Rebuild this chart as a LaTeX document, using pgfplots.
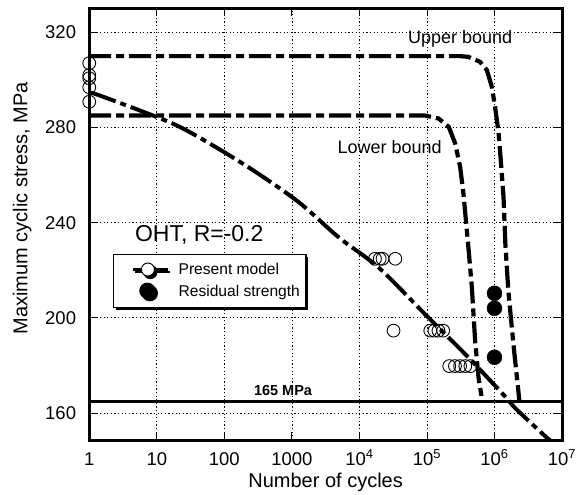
\documentclass[border=0pt]{standalone}
\usepackage{fontspec}
\setmainfont{Liberation Sans}
\usepackage{pgfplots}
\pgfplotsset{compat=1.18}
\usetikzlibrary{shadows}

\begin{document}
\begin{tikzpicture}
\begin{axis}[
 scale only axis,
 width=473bp, height=432bp,
 xmode=log,
 xmin=1, xmax=1e7,
 ymin=148.6, ymax=330.1,
 xtick={1,10,100,1000,1e4,1e5,1e6,1e7},
 xticklabels={1,10,100,1000,10\textsuperscript{4},10\textsuperscript{5},10\textsuperscript{6},10\textsuperscript{7}},
 ytick={160,200,240,280,320},
 xminorticks=false,
 grid=major,
 major grid style={black, line width=0.6bp, dash pattern=on 1.2bp off 2.4bp},
 axis line style={line width=3bp},
 tick align=inside,
 major tick length=8bp,
 tick style={black, line width=0.8bp},
 /pgf/number format/assume math mode=true,
 ticklabel style={font=\fontsize{18.5bp}{20bp}\selectfont, inner sep=0pt},
 xticklabel style={anchor=base, yshift=-25bp},
 yticklabel style={anchor=east, xshift=-13bp},
 xlabel={Number of cycles},
 ylabel={Maximum cyclic stress, MPa},
 label style={font=\fontsize{20bp}{22bp}\selectfont},
 xlabel style={at={(axis description cs:0.5,-0.0973)}, anchor=center},
 ylabel style={at={(axis description cs:-0.1417,0.537)}, anchor=center},
 legend cell align=left,
 legend style={at={(axis description cs:0.05,0.431)}, anchor=north west,
   draw=black, line width=1.2bp, fill=white,
   drop shadow={shadow xshift=2.5bp, shadow yshift=-2.5bp, opacity=1, fill=black},
   inner xsep=6bp, inner ysep=8bp, row sep=4.7bp, column sep=9bp,
   font=\fontsize{15.6bp}{17bp}\selectfont,
   nodes={inner sep=0pt, text height=11bp, text depth=3bp}},
]
% upper bound
\addplot[forget plot, black, line width=4.2bp, dash pattern=on 22bp off 5bp on 8bp off 5bp]
 coordinates {(1,310) (3e5,310) (4.1e5,309.7) (6.1e5,307.6) (7.7e5,304.2) (9.15e5,297.1)
  (1.02e6,288.7) (1.15e6,277.7) (1.24e6,266.3) (1.36e6,250.9) (1.45e6,231) (1.6e6,211.7)
  (1.9e6,189.4) (2.25e6,169.6) (2.35e6,164.5)};
% lower bound
\addplot[forget plot, black, line width=4.2bp, dash pattern=on 22bp off 5bp on 8bp off 5bp]
 coordinates {(1,285) (9.4e4,285) (1.48e5,283.8) (2.1e5,280.3) (2.62e5,273.3) (3.1e5,263.5)
  (3.47e5,252.3) (4.07e5,231) (4.62e5,213) (5.18e5,190) (5.8e5,175) (6.6e5,165)};
% present model
\addplot[forget plot, black, line width=4bp, smooth, dash pattern=on 28bp off 5bp on 6bp off 5bp]
 coordinates {(1,294.5) (1.41,293.5) (17,281.7) (76,271.6) (302,261) (1290,248.4) (5000,233.7)
  (19500,221) (93000,201.6) (3.9e5,184) (1.45e6,166.8) (2.05e6,161.9) (5.4e6,150.7) (7e6,148)};
% 165 MPa
\addplot[forget plot, black, line width=2.4bp] coordinates {(1,164.8) (1e7,164.8)};
% test data
\addplot[forget plot, only marks, mark=o, mark size=6.4bp, mark options={line width=0.9bp, black}]
 coordinates {(1,307) (1,302) (1,300.7) (1,296.9) (1,290.8)
  (1.7e4,224.8) (2.0e4,224.8) (2.2e4,224.8) (3.4e4,224.8)
  (3.2e4,194.6)
  (1.12e5,194.6) (1.29e5,194.6) (1.48e5,194.6) (1.74e5,194.6)
  (2.14e5,179.7) (2.6e5,179.7) (3.1e5,179.7) (3.7e5,179.7) (4.4e5,179.7)};
% residual strength
\addplot[forget plot, only marks, mark=*, mark size=7.5bp, black]
 coordinates {(1e6,210.3) (1e6,204) (1e6,183.4)};

\addlegendimage{legend image code/.code={
  \node[inner sep=0pt, minimum size=0pt, text height=0pt, text depth=0pt, draw=none, color=white] at (-14bp,0) {};
  \draw[black, line width=3.5bp] (0,0) -- (35bp,0);
  \draw[black, line width=0.9bp, fill=white] (15bp,0) circle (6.5bp);}}
\addlegendentry{Present model}
\addlegendimage{legend image code/.code={
  \node[inner sep=0pt, minimum size=0pt, text height=0pt, text depth=0pt, draw=none, color=white] at (-14bp,0) {};
  \node[inner sep=0pt, minimum size=0pt, text height=0pt, text depth=0pt, draw=none, color=white] at (35bp,0) {};
  \fill[black] (14.5bp,0) circle (7.5bp);}}
\addlegendentry{Residual strength}

\node[font=\fontsize{18bp}{20bp}\selectfont] at (axis cs:3.1e5,317.2) {Upper bound};
\node[font=\fontsize{18bp}{20bp}\selectfont] at (axis cs:2.8e4,271.6) {Lower bound};
\node[font=\fontsize{23bp}{25bp}\selectfont] at (axis cs:42.5,234.8) {OHT, R=-0.2};
\node[font=\fontsize{14.5bp}{16bp}\selectfont\bfseries] at (axis cs:740,169.6) {165 MPa};
\end{axis}
\pgfresetboundingbox
\path ([shift={(-89.3bp,-54bp)}]current axis.south west) rectangle ([shift={(16bp,8.3bp)}]current axis.north east);
\end{tikzpicture}
\end{document}
